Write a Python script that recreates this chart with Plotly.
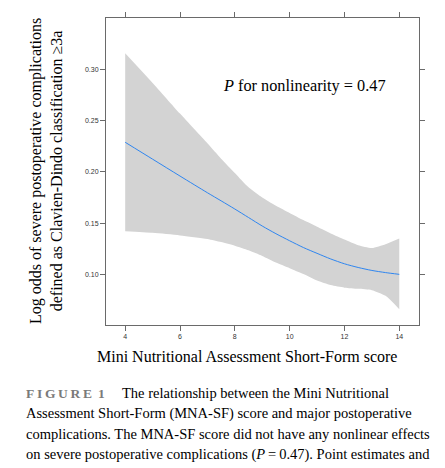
import plotly.graph_objects as go

# ---- data ----
score = [4, 5, 6, 7, 7.5, 8, 8.5, 9, 9.5, 10, 10.5, 11, 11.5, 12, 12.5, 13, 13.5, 14]
fit = [0.229, 0.2125, 0.196, 0.1797, 0.1718, 0.1638, 0.1555, 0.1472, 0.1397, 0.1328, 0.1262, 0.1205, 0.1150, 0.1103, 0.1067, 0.1038, 0.1017, 0.100]
upper = [0.316, 0.287, 0.257, 0.228, 0.213, 0.199, 0.185, 0.175, 0.167, 0.160, 0.153, 0.1465, 0.140, 0.134, 0.1285, 0.1258, 0.1295, 0.135]
lower = [0.142, 0.1405, 0.138, 0.1345, 0.1315, 0.128, 0.1235, 0.118, 0.1115, 0.106, 0.1003, 0.094, 0.0895, 0.087, 0.0858, 0.0845, 0.079, 0.066]

x_ticks = [4, 6, 8, 10, 12, 14]
y_ticks = [0.10, 0.15, 0.20, 0.25, 0.30]

x_title = "Mini Nutritional Assessment Short-Form score"
y_title = "Log odds of severe postoperative complications<br>defined as Clavien-Dindo classification \u22653a"
note = "<i>P</i> for nonlinearity = 0.47"
caption_lines = [
    "The relationship between the Mini Nutritional",
    "Assessment Short-Form (MNA-SF) score and major postoperative",
    "complications. The MNA-SF score did not have any nonlinear effects",
    "on severe postoperative complications (<i>P</i>\u2009=\u20090.47). Point estimates and",
]

# ---- layout geometry ----
W, H = 445, 468
L, R, T, B = 106, 26, 18, 143
PW, PH = W - L - R, H - T - B


def px(x):
    return (x - L) / PW


def py(y):
    return (H - B - y) / PH


serif = "Liberation Serif, Times New Roman, serif"
sans = "Liberation Sans, Arial, sans-serif"

fig = go.Figure()
fig.add_trace(go.Scatter(x=score, y=upper, mode="lines", line=dict(width=0, shape="spline", smoothing=0.6),
                         hoverinfo="skip", showlegend=False))
fig.add_trace(go.Scatter(x=score, y=lower, mode="lines", line=dict(width=0, shape="spline", smoothing=0.6),
                         fill="tonexty", fillcolor="#d3d3d3", hoverinfo="skip", showlegend=False))
fig.add_trace(go.Scatter(x=score, y=fit, mode="lines", line=dict(color="#2f86f0", width=1, shape="spline", smoothing=0.8),
                         showlegend=False))

axis_common = dict(showgrid=False, zeroline=False, showline=True, linecolor="#6a6a6a", linewidth=1,
                   mirror="ticks", ticks="outside", ticklen=5, tickwidth=1, tickcolor="#6a6a6a",
                   tickfont=dict(family=sans, size=7, color="#333333"))

fig.update_layout(
    width=W, height=H,
    margin=dict(l=L, r=R, t=T, b=B, pad=0),
    paper_bgcolor="white", plot_bgcolor="white",
    xaxis=dict(range=[3.3, 14.72], tickvals=x_ticks, ticktext=[str(v) for v in x_ticks], **axis_common),
    yaxis=dict(range=[0.0505, 0.3504], tickvals=y_ticks, tickformat=".2f", **axis_common),
    showlegend=False,
)

ann = []
ann.append(dict(text=note, x=px(304), y=py(85), xref="paper", yref="paper", xanchor="center", yanchor="middle",
                showarrow=False, font=dict(family=serif, size=16.3, color="black")))
ann.append(dict(text=x_title, x=px(247), y=py(356), xref="paper", yref="paper", xanchor="center", yanchor="middle",
                showarrow=False, font=dict(family=serif, size=16, color="black")))
ann.append(dict(text=y_title, x=px(46), y=py(171), xref="paper", yref="paper", xanchor="center", yanchor="middle",
                textangle=-90, showarrow=False, font=dict(family=serif, size=16, color="black")))
ann.append(dict(text="<b>F\u2009I\u2009G\u2009U\u2009R\u2009E\u2009 1</b>", x=px(24), y=py(393), xref="paper", yref="paper",
                xanchor="left", yanchor="middle", showarrow=False, font=dict(family=serif, size=13.5, color="#7a7a7a")))
cap_y = [393, 413.5, 434, 454.5]
cap_x = [120, 24, 24, 24]
for t, yy, xx in zip(caption_lines, cap_y, cap_x):
    ann.append(dict(text=t, x=px(xx), y=py(yy), xref="paper", yref="paper", xanchor="left", yanchor="middle",
                    showarrow=False, font=dict(family=serif, size=14.5, color="black")))
fig.update_layout(annotations=ann)

fig.write_html("out.html")
